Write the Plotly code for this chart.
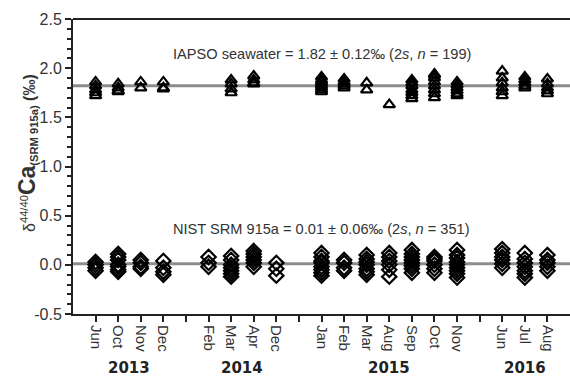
import plotly.graph_objects as go

# Slot labels on the x axis ("" = empty slot with tick only)
month_labels = ["Jun", "Oct", "Nov", "Dec", "", "Feb", "Mar", "Apr", "Dec", "",
                "Jan", "Feb", "Mar", "Aug", "Sep", "Oct", "Nov", "", "Jun", "Jul", "Aug"]
years = ["2013", "2014", "2015", "2016"]
year_pos = [1.5, 6.5, 13.0, 19.0]

# IAPSO seawater values per slot
iapso = [
    [1.86, 1.82, 1.78, 1.75, 1.72],
    [1.84, 1.80, 1.77, 1.76],
    [1.86, 1.80],
    [1.86, 1.80, 1.79],
    [],
    [],
    [1.88, 1.84, 1.79, 1.75],
    [1.92, 1.88, 1.85, 1.84],
    [],
    [],
    [1.91, 1.88, 1.86, 1.84, 1.82, 1.80, 1.78, 1.76],
    [1.89, 1.86, 1.84, 1.82, 1.80],
    [1.85, 1.78],
    [1.63],
    [1.88, 1.85, 1.82, 1.78, 1.75, 1.72, 1.69],
    [1.94, 1.93, 1.90, 1.86, 1.82, 1.78, 1.74, 1.70],
    [1.86, 1.83, 1.80, 1.77, 1.74, 1.72],
    [],
    [1.97, 1.90, 1.85, 1.80, 1.76, 1.72],
    [1.91, 1.88, 1.85, 1.82, 1.80],
    [1.89, 1.84, 1.80, 1.77, 1.74],
]

# NIST SRM 915a values per slot
nist = [
    [0.03, 0.00, -0.03, -0.06],
    [0.11, 0.08, 0.05, 0.00, -0.02, -0.05, -0.07],
    [0.05, 0.02, -0.02, -0.04],
    [0.04, -0.03, -0.07, -0.10],
    [],
    [0.08, 0.02, -0.02],
    [0.09, 0.05, 0.00, -0.03, -0.06, -0.09, -0.12],
    [0.14, 0.11, 0.08, 0.05, 0.02, -0.02],
    [0.02, -0.04, -0.11],
    [],
    [0.12, 0.08, 0.04, 0.02, -0.02, -0.05, -0.08, -0.11],
    [0.05, 0.02, -0.03, -0.06],
    [0.10, 0.06, 0.03, 0.00, -0.04, -0.07, -0.10],
    [0.12, 0.08, 0.04, 0.00, -0.05, -0.12],
    [0.15, 0.11, 0.08, 0.05, 0.02, -0.01, -0.04, -0.08],
    [0.08, 0.06, 0.04, 0.00, -0.04, -0.08],
    [0.15, 0.10, 0.07, 0.03, 0.00, -0.03, -0.06, -0.09, -0.13],
    [],
    [0.16, 0.12, 0.08, 0.05, 0.01, -0.03],
    [0.12, 0.06, 0.02, -0.02, -0.06, -0.09, -0.13],
    [0.10, 0.05, 0.02, -0.02, -0.06],
]

iapso_mean = 1.82
nist_mean = 0.01

def flatten(groups):
    xs, ys = [], []
    for i, g in enumerate(groups):
        for v in g:
            xs.append(i)
            ys.append(v)
    return xs, ys

xi, yi = flatten(iapso)
xn, yn = flatten(nist)

fig = go.Figure()
fig.add_trace(go.Scatter(x=xi, y=yi, mode="markers",
                         marker=dict(symbol="triangle-up-open", size=10, color="black",
                                     line=dict(width=2.2, color="black")),
                         showlegend=False))
fig.add_trace(go.Scatter(x=xn, y=yn, mode="markers",
                         marker=dict(symbol="diamond-open", size=11, color="black",
                                     line=dict(width=2.2, color="black")),
                         showlegend=False))

shapes = [
    dict(type="line", xref="paper", yref="y", x0=0, x1=1, y0=iapso_mean, y1=iapso_mean,
         line=dict(color="#8c8c8c", width=3), layer="below"),
    dict(type="line", xref="paper", yref="y", x0=0, x1=1, y0=nist_mean, y1=nist_mean,
         line=dict(color="#8c8c8c", width=3), layer="below"),
    dict(type="line", xref="paper", yref="paper", x0=0, x1=1, y0=1, y1=1,
         line=dict(color="#222", width=2)),
]

L, R, T, B = 73, 0, 19, 62
W, H = 570, 376
plot_w = W - L - R
plot_h = H - T - B

annotations = [
    dict(x=10.0, y=2.14, xref="x", yref="y", showarrow=False,
         text="IAPSO seawater = 1.82 ± 0.12‰ (2<i>s</i>, <i>n</i> = 199)",
         font=dict(family="Liberation Sans, Arial", size=14.6, color="#333")),
    dict(x=10.0, y=0.36, xref="x", yref="y", showarrow=False,
         text="NIST SRM 915a = 0.01 ± 0.06‰ (2<i>s</i>, <i>n</i> = 351)",
         font=dict(family="Liberation Sans, Arial", size=14.6, color="#333")),
    dict(x=(27 - L) / plot_w, y=(H - B - 153) / plot_h, xref="paper", yref="paper",
         xanchor="center", yanchor="middle", showarrow=False, textangle=-90,
         text="δ<sup>44/40</sup><b><span style='font-size:23px'>Ca</span></b>"
              "<sub><b>(SRM 915a)</b></sub> <b>(‰)</b>",
         font=dict(family="Liberation Sans, Arial", size=16, color="#333")),
]
for yr, xp in zip(years, year_pos):
    annotations.append(dict(x=xp, y=-(368 - (H - B)) / plot_h, xref="x", yref="paper",
                            showarrow=False, text="<b>" + yr + "</b>", yanchor="middle",
                            font=dict(family="DejaVu Sans, Verdana", size=15, color="#222")))

fig.update_layout(
    width=W, height=H,
    margin=dict(l=L, r=R, t=T, b=B, autoexpand=False),
    paper_bgcolor="white", plot_bgcolor="white",
    shapes=shapes, annotations=annotations,
    xaxis=dict(range=[-1, 21], tickmode="array", tickvals=list(range(len(month_labels))),
               ticktext=month_labels, tickangle=90, ticks="outside", ticklen=6,
               tickwidth=2, tickcolor="#222", showline=True, linecolor="#222", linewidth=2,
               showgrid=False, zeroline=False, automargin=False,
               tickfont=dict(family="Liberation Sans, Arial", size=15, color="#333")),
    yaxis=dict(range=[-0.5, 2.5], tickmode="array",
               tickvals=[-0.5, 0, 0.5, 1.0, 1.5, 2.0, 2.5],
               ticktext=["-0.5", "0.0", "0.5", "1.0", "1.5", "2.0", "2.5"],
               ticks="outside", ticklen=6, tickwidth=2, tickcolor="#222",
               showline=True, linecolor="#222", linewidth=2,
               showgrid=False, zeroline=False, automargin=False,
               minor=dict(dtick=0.1, tick0=0, ticks="outside", ticklen=4, tickwidth=1.5,
                          tickcolor="#222", showgrid=False),
               tickfont=dict(family="Liberation Sans, Arial", size=16, color="#333")),
)

fig.write_html("out.html", config={"displayModeBar": False},
               post_script="document.body.style.margin='0px';document.body.style.overflow='hidden';")
